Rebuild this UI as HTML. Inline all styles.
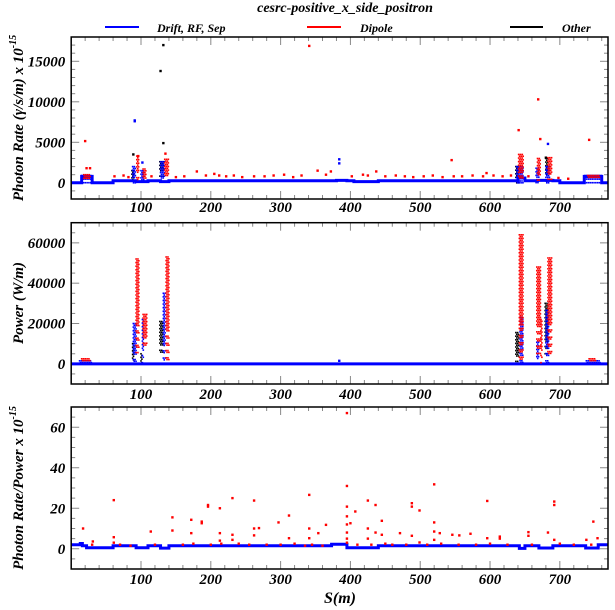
<!DOCTYPE html>
<html><head><meta charset="utf-8"><style>
html,body{margin:0;padding:0;background:#fff;}
svg{display:block;font-family:"Liberation Serif",serif;font-style:italic;font-weight:bold;}
</style></head><body>
<svg id="chart" width="615" height="610" viewBox="0 0 615 610" xmlns="http://www.w3.org/2000/svg">
<text x="345" y="12" font-size="14" text-anchor="middle">cesrc-positive_x_side_positron</text>
<g>
<g><line x1="105" y1="27" x2="139" y2="27" stroke="#0000ff" stroke-width="2"/><text x="157" y="32" font-size="12">Drift, RF, Sep</text></g>
<g><line x1="307" y1="27" x2="341" y2="27" stroke="#ff0000" stroke-width="2"/><text x="360" y="32" font-size="12">Dipole</text></g>
<g><line x1="510" y1="27" x2="543" y2="27" stroke="#000" stroke-width="2"/><text x="562" y="32" font-size="12">Other</text></g>
</g>
<g id="plots"></g>
<text x="340" y="603" font-size="16" text-anchor="middle">S(m)</text>
</svg>
<script>
// ---------- data ----------
const xTicks = [100,200,300,400,500,600,700];
// Panel 1: photon rate
const p1Ticks = [0,5000,10000,15000];
const p1BaseS = [0,15,30,60,93,110,128,140,380,395,405,440,640,650,668,690,700,735,760,769];
const p1BaseV = [0,800,0,250,150,250,150,250,300,250,150,250,600,250,300,250,0,800,0];
const p1BlueClusters = [[15,30,0,900],[88,93,0,2000],[100,104,0,1500],[128,134,300,2600],[638,648,0,2000],[666,671,0,1800],[680,686,0,2000],[736,760,0,900]];
const p1RedClusters = [[18,28,300,1000],[94,97,300,3300],[103,108,300,1700],[134,140,300,2900],[641,648,300,3500],[668,673,300,3000],[683,689,300,3100],[740,758,300,900]];
const p1BlackClusters = [[87,90,0,1500],[127,133,800,2600],[637,641,0,2000],[680,683,0,3000]];
const p1RedS = [20,22,27,341,545,641,669,672,742,135,96,62,75,82,115,150,162,180,193,205,212,222,233,245,262,277,290,305,318,330,353,365,372,402,418,425,437,450,465,478,490,505,518,532,548,560,575,590,595,605,618,630,655,698,712];
const p1RedV = [5150,1800,1800,16900,2800,6500,10300,5400,5300,3600,3300,800,900,700,800,700,800,1400,900,1100,900,800,900,700,800,800,900,1000,700,900,1500,1000,1400,800,1000,900,1400,800,900,800,700,800,900,700,800,800,900,800,1200,900,800,900,800,600,500];
const p1BlueS = [91,91,384,384,683,102];
const p1BlueV = [7700,7600,2900,2400,4800,2500];
const p1BlackS = [89,128,132,132,680];
const p1BlackV = [3500,13800,17000,4900,3100];
// Panel 2: power
const p2Ticks = [0,20000,40000,60000];
const p2BaseS = [0,769];
const p2BaseV = [0];
const p2BlueClusters = [[12,30,0,1500],[89,93,0,20000],[102,104,0,22000],[132,135,0,35000],[643,647,0,23000],[667,670,0,10700],[680,685,0,26500],[738,758,0,1500]];
const p2RedClusters = [[15,28,0,2500],[93,97,5000,52000],[103,109,8000,24500],[136,141,0,53000],[642,648,0,64000],[667,673,5000,48000],[673,675,0,22000],[683,689,5000,52500],[742,752,0,2500]];
const p2BlackClusters = [[88,90,0,10000],[100,102,0,5000],[127,132,5000,21000],[637,642,0,15500],[679,683,5000,30000]];
const p2BlueS = [384];
const p2BlueV = [1500];
// Panel 3: ratio
const p3Ticks = [0,20,40,60];
const p3BaseS = [0,13,16,22,60,93,110,128,140,373,395,405,440,642,650,670,690,737,755,769];
const p3BaseV = [2,2.6,1.5,0.5,1.5,0.5,1.5,0.3,1.5,2.2,0.5,0.5,1.5,0.2,1.5,0.4,1.5,0.4,2];
const p3RedS = [17,31,61,61,61,114,145,145,172,172,187,187,196,196,213,213,213,231,231,231,262,262,262,269,297,312,312,341,341,341,354,365,395,395,395,395,395,395,395,395,400,407,425,425,425,436,436,445,445,471,488,488,488,499,499,520,520,520,520,528,546,556,572,596,596,614,614,655,655,683,692,692,692,738,748,754];
const p3RedV = [10,3.6,24,5.7,3,8.5,15.5,9,14.3,7.7,13.4,12.6,21.6,20.8,20,7.7,4,25,6.9,4.4,23.8,10,6.6,10.2,13,16.4,5.2,26.6,10,5.2,7.7,11.8,67,31,20.8,16,12,8,5,3,12.6,18.4,23.8,10,5,21.6,8,13.8,6.9,7.7,22.5,20.8,6.4,18.9,3.1,31.8,13,8.5,4.4,7.7,6.9,6.6,7.4,23.6,5.2,6,5,8.2,6.4,8,23.3,21.6,4.4,4.4,13.4,5.2];
const p3RedSmallS = [30,70,85,120,160,175,200,215,240,255,280,300,320,335,345,360,410,430,450,460,480,510,530,555,580,600,625,660,700,720,745];
const p3RedSmallV = [2,2,1.5,2,2,2.5,2,2.5,2.5,2,2,2,2.5,1.5,2,1.5,2,2,2.5,2,2,2,2.5,2,2,2.5,2,2,2.5,2,2];

// ---------- layout ----------
const X0=71.2, X1=608, SMAX=769;
const xs = s => X0 + s*(X1-X0)/SMAX;
const NS="http://www.w3.org/2000/svg";
const plots=document.getElementById('plots');
function el(tag,attrs,parent){const e=document.createElementNS(NS,tag);for(const k in attrs)e.setAttribute(k,attrs[k]);(parent||plots).appendChild(e);return e;}

const panels=[
 {name:'photon-rate',top:37,bot:199,min:-2000,max:18000,ticks:p1Ticks,minor:1000,base:[p1BaseS,p1BaseV],
  bc:p1BlueClusters,rc:p1RedClusters,kc:p1BlackClusters,pts:[[p1RedS,p1RedV,'#ff0000'],[p1BlueS,p1BlueV,'#0000ff'],[p1BlackS,p1BlackV,'#000']],labY:212},
 {name:'power',top:222.7,bot:384,min:-10000,max:70000,ticks:p2Ticks,minor:5000,base:[p2BaseS,p2BaseV],
  bc:p2BlueClusters,rc:p2RedClusters,kc:p2BlackClusters,pts:[[p2BlueS,p2BlueV,'#0000ff']],labY:399},
 {name:'ratio',top:407,bot:569,min:-10,max:70,ticks:p3Ticks,minor:5,base:[p3BaseS,p3BaseV],
  bc:[],rc:[],kc:[],pts:[[p3RedSmallS,p3RedSmallV,'#ff0000'],[p3RedS,p3RedV,'#ff0000']],labY:584}
];

panels.forEach(p=>{
 const ys=v=>p.bot-(v-p.min)*(p.bot-p.top)/(p.max-p.min);
 const g=el('g',{});
 
 
 for(let s=20;s<SMAX;s+=20){
  const major=s%100===0, L=major?8:4;
  el('line',{x1:xs(s),x2:xs(s),y1:p.bot,y2:p.bot-L,stroke:'#888','stroke-width':1},g);
  el('line',{x1:xs(s),x2:xs(s),y1:p.top,y2:p.top+L,stroke:'#888','stroke-width':1},g);
 }
 for(let v=p.min+p.minor;v<p.max;v+=p.minor){
  const major=Math.abs(v%(p.minor*(p.name==='photon-rate'?5:4)))<1e-9, L=major?8:4;
  el('line',{x1:X0,x2:X0+L,y1:ys(v),y2:ys(v),stroke:'#888','stroke-width':1},g);
  el('line',{x1:X1,x2:X1-L,y1:ys(v),y2:ys(v),stroke:'#888','stroke-width':1},g);
 }
 xTicks.forEach(t=>{
  const tx=el('text',{x:xs(t),y:p.labY,'font-size':15,'text-anchor':'middle'},g);
  
  
  tx.textContent=t;
 });
 p.ticks.forEach(t=>{
  const tx=el('text',{x:X0-6,y:ys(t)+5,'font-size':15,'text-anchor':'end'},g);
  
  
  tx.textContent=t;
 });
 const drawCl=(arr,col,nm)=>arr.forEach(c=>{
  const cg=el('g',{fill:col},g);
  
  
  let k=0;
  for(let s=c[0];s<=c[1];s+=1.3){
   const yTop=ys(c[3]), yLo=ys(c[2]);
   let j=0;
   for(let y=yTop+(k%2)*1.8;y<=yLo;y+=3.6){
    j++;
    if((yLo-y)<(yLo-yTop)*0.3 && j%2===0) continue;
    el('rect',{x:xs(s)-0.8,y:y-0.8,width:1.6,height:1.6},cg);
   }
   k++;
  }
 });
 drawCl(p.kc,'#000','other-cluster');
 drawCl(p.bc,'#0000ff','drift-cluster');
 const [bs,bv]=p.base;
 let d='M'+xs(bs[0])+','+ys(bv[0]);
 for(let i=0;i<bv.length;i++){d+=' L'+xs(bs[i])+','+ys(bv[i])+' L'+xs(bs[i+1])+','+ys(bv[i]);}
 const bl=el('path',{d:d,fill:'none',stroke:'#0000ff','stroke-width':3},g);
 
 
 drawCl(p.rc,'#ff0000','dipole-cluster');
 p.pts.forEach(([S,V,col])=>{
  S.forEach((s,i)=>{
   const r=el('rect',{x:xs(s)-1.2,y:ys(V[i])-1.2,width:2.4,height:2.4,fill:col},g);
   
   
  });
 });
 const fr=el('rect',{x:X0,y:p.top,width:X1-X0,height:p.bot-p.top,fill:'none',stroke:'#000','stroke-width':1.5},g);
 
 
});

const yt=[['photon-rate-y-title',118,'Photon Rate (γ/s/m) x 10'],['power-y-title',303,'Power (W/m)'],['ratio-y-title',488,'Photon Rate/Power x 10']];
yt.forEach(([n,cy,t],i)=>{
 const tx=el('text',{x:0,y:0,'font-size':15,'text-anchor':'middle',transform:`translate(23,${cy}) rotate(-90)`});
 
 
 tx.textContent=t;
 if(i!==1){const sp=el('tspan',{dy:-7,'font-size':10},tx);sp.textContent='-15';}
});
</script>
</body></html>
